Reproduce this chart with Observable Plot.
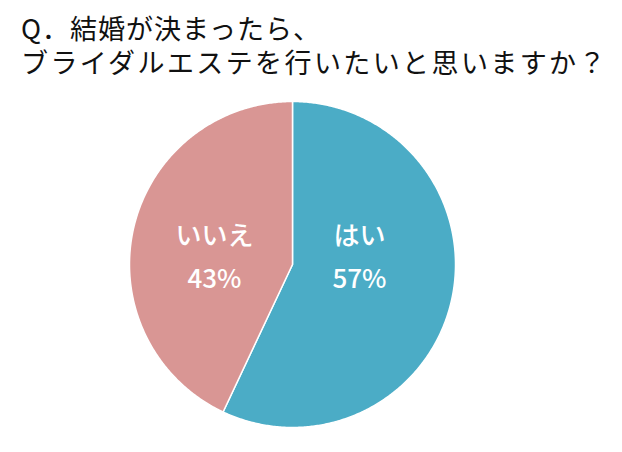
<!DOCTYPE html>
<html>
<head>
<meta charset="utf-8">
<script src="https://cdn.jsdelivr.net/npm/d3@7"></script>
<script src="https://cdn.jsdelivr.net/npm/@observablehq/plot@0.6"></script>
<style>
  html, body { margin: 0; padding: 0; background: #fff; }
  #wrap { position: relative; width: 622px; height: 452px; overflow: hidden; font-family: "Noto Sans CJK JP", sans-serif; }
  #title { position: absolute; left: 21px; top: 11px; font-size: 27px; color: #111; white-space: nowrap; font-weight: 400; }
  #title div { height: 34px; line-height: 34px; }
  #chart { position: absolute; left: 0; top: 90px; }
</style>
</head>
<body>
<div id="wrap">
  <div id="title"></div>
  <div id="chart"></div>
</div>
<script>
const titleLines = ["Q．結婚が決まったら、", "ブライダルエステを行いたいと思いますか？"];
const categories = ["はい", "いいえ"];
const values = [57, 43];
const colors = ["#4BACC6", "#D99694"];

const titleEl = document.getElementById("title");
const spacing = ["1px", "2.4px"];
titleLines.forEach((t, i) => {
  const d = document.createElement("div");
  d.style.letterSpacing = spacing[i];
  d.textContent = t;
  titleEl.appendChild(d);
});

const rows = categories.map((c, i) => ({label: c, value: values[i]}));
const arcs = d3.pie().sort(null).value(d => d.value)(rows);

// polygon points for each slice, derived from pie angles (clockwise from top)
const pts = [];
arcs.forEach(a => {
  const key = a.data.label;
  pts.push({key, x: 0, y: 0});
  const n = Math.max(2, Math.ceil((a.endAngle - a.startAngle) / (Math.PI / 360)));
  for (let k = 0; k <= n; k++) {
    const t = a.startAngle + (a.endAngle - a.startAngle) * k / n;
    pts.push({key, x: Math.sin(t), y: Math.cos(t)});
  }
});

const labels = arcs.map(a => {
  const mid = (a.startAngle + a.endAngle) / 2;
  return {text: a.data.label + "\n" + a.data.value + "%", x: 0.456 * Math.sin(mid) - 0.034, y: 0.07};
});

const W = 622, H = 362;
const plot = Plot.plot({
  width: W, height: H,
  marginLeft: 129, marginRight: 167, marginTop: 11, marginBottom: 25,
  x: {domain: [-1, 1], axis: null},
  y: {domain: [-1, 1], axis: null},
  color: {domain: categories, range: colors},
  style: {fontFamily: "'Noto Sans CJK JP', sans-serif", background: "transparent"},
  marks: [
    Plot.line(pts, {x: "x", y: "y", z: "key", fill: "key", stroke: "white", strokeWidth: 1.5, curve: "linear-closed"}),
    Plot.text(labels, {x: "x", y: "y", text: "text", fill: "white", fontSize: 26, fontWeight: 500, lineHeight: 1.65})
  ]
});
document.getElementById("chart").appendChild(plot);
</script>
</body>
</html>
